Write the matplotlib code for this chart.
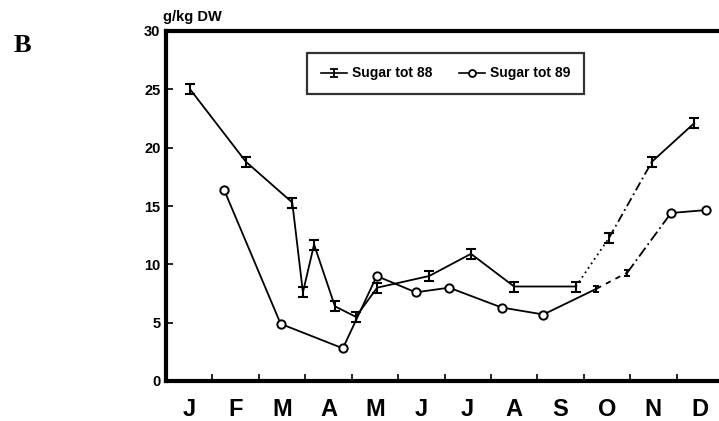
import matplotlib
matplotlib.use("Agg")
import matplotlib.pyplot as plt
from matplotlib.path import Path
from matplotlib.lines import Line2D

# ---- data ----
months = ["J", "F", "M", "A", "M", "J", "J", "A", "S", "O", "N", "D"]
y_ticks = [0, 5, 10, 15, 20, 25, 30]

x88 = [0.52, 1.72, 2.72, 2.95, 3.19, 3.64, 4.09, 4.55, 5.67, 6.57, 7.50, 8.83, 9.55, 10.47, 11.38]
y88 = [25.0, 18.8, 15.3, 7.6, 11.7, 6.4, 5.5, 8.0, 9.0, 10.9, 8.1, 8.1, 12.3, 18.8, 22.1]

x89 = [1.25, 2.47, 3.81, 4.54, 5.38, 6.10, 7.23, 8.13, 9.27, 9.94, 10.88, 11.63]
y89 = [16.4, 4.9, 2.8, 9.0, 7.6, 8.0, 6.3, 5.7, 7.9, 9.3, 14.4, 14.65]

# index ranges and line styles of the segments
seg88 = [((0, 11), "-"), ((11, 12), (0, (1, 2))), ((12, 13), (0, (5, 2, 1, 2))), ((13, 14), "-")]
seg89 = [((0, 8), "-"), ((8, 9), (0, (3, 3))), ((9, 10), (0, (6, 2, 1, 2))), ((10, 11), "-")]
circle89 = [True, True, True, True, True, True, True, True, False, False, True, True]

# I-beam marker (error bar look)
ibeam = Path([(-1, 1), (1, 1), (0, 1), (0, -1), (-1, -1), (1, -1)],
             [Path.MOVETO, Path.LINETO, Path.MOVETO, Path.LINETO, Path.MOVETO, Path.LINETO])

plt.rcParams['font.family'] = ['Liberation Sans', 'DejaVu Sans']

fig = plt.figure(figsize=(7.19, 4.21), dpi=100)
ax = fig.add_axes([166 / 719, 40 / 421, 557 / 719, 350 / 421])

lw = 1.3
for (a, b), ls in seg88:
    ax.plot(x88[a:b + 1], y88[a:b + 1], color="black", lw=lw, linestyle=ls, zorder=2)
for (a, b), ls in seg89:
    ax.plot(x89[a:b + 1], y89[a:b + 1], color="black", lw=lw, linestyle=ls, zorder=2)

ax.plot(x88, y88, linestyle="none", marker=ibeam, markersize=7, mew=1.5,
        color="black", zorder=3)
xc = [x for x, c in zip(x89, circle89) if c]
yc = [y for y, c in zip(y89, circle89) if c]
xn = [x for x, c in zip(x89, circle89) if not c]
yn = [y for y, c in zip(y89, circle89) if not c]
ax.plot(xc, yc, linestyle="none", marker="o", markersize=6, mew=1.4,
        mfc="white", mec="black", zorder=3)
ax.plot(xn, yn, linestyle="none", marker=ibeam, markersize=5, mew=1.4,
        color="black", zorder=3)

ax.set_xlim(0, 12)
ax.set_ylim(0, 30)

for side in ["left", "bottom", "top"]:
    ax.spines[side].set_linewidth(3)
ax.spines["right"].set_visible(False)

ax.set_yticks(y_ticks)
ax.set_yticklabels([str(v) for v in y_ticks], fontsize=10.5, fontweight="bold")
ax.tick_params(axis="y", direction="in", length=5, width=1.2, pad=4)

ax.set_xticks(range(1, 12))
ax.set_xticklabels([])
ax.tick_params(axis="x", which="major", direction="in", length=5, width=1.2)
ax.set_xticks([i + 0.5 for i in range(12)], minor=True)
ax.set_xticklabels(months, minor=True, fontsize=17, fontweight="bold")
ax.tick_params(axis="x", which="minor", length=0, pad=12)

fig.text(163 / 719, 1 - 17 / 421, "g/kg DW", fontsize=10.5, fontweight="bold",
         ha="left", va="center")
fig.text(14 / 719, 1 - 46 / 421, "B", fontsize=19, fontweight="bold",
         family=["Liberation Serif", "DejaVu Serif"], ha="left", va="center")

h88 = Line2D([], [], color="black", lw=1.2, marker=ibeam, markersize=6, mew=1.3)
h89 = Line2D([], [], color="black", lw=1.2, marker="o", markersize=5, mew=1.3,
             mfc="white", mec="black")
leg = ax.legend([h88, h89], ["Sugar tot 88", "Sugar tot 89"], ncol=2,
                loc="center", bbox_to_anchor=(445.5 / 719, 1 - 73.5 / 421),
                bbox_transform=fig.transFigure, frameon=True, fancybox=False,
                prop={"weight": "bold", "size": 10}, handlelength=1.9,
                handletextpad=0.35, columnspacing=1.9, borderpad=1.0,
                borderaxespad=0)
leg.get_frame().set_edgecolor("black")
leg.get_frame().set_linewidth(1.6)

fig.savefig("out.png", dpi=100)
